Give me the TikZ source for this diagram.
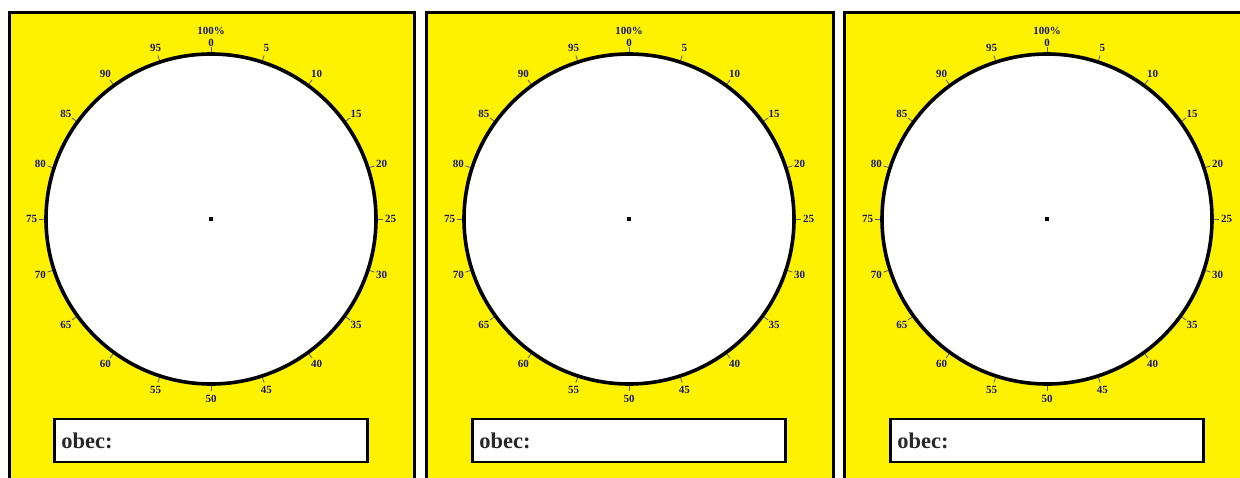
\documentclass[tikz,border=0pt]{standalone}
\usepackage{fontspec}
\setmainfont{Liberation Serif}
\usetikzlibrary{calc}
\definecolor{panelyellow}{RGB}{255,242,0}
\definecolor{labelblue}{RGB}{25,25,100}
\definecolor{tickgray}{RGB}{90,90,120}
\definecolor{obecgray}{RGB}{40,40,40}
\tikzset{
  panel/.style={draw=black, line width=3pt, fill=panelyellow},
  dial/.style={draw=black, line width=3.6pt, fill=white},
  tickmark/.style={draw=tickgray, line width=0.8pt},
  ticklabel/.style={text=labelblue, font=\fontsize{11}{11}\selectfont\bfseries, inner sep=0pt},
  obecbox/.style={draw=black, line width=2.5pt, fill=white},
  obectext/.style={text=obecgray, font=\fontsize{22.5}{22.5}\selectfont\bfseries, inner sep=0pt, anchor=west},
}
\begin{document}
\begin{tikzpicture}[x=1pt,y=-1pt]
\clip (0,0) rectangle (1240,477);
\useasboundingbox (0,0) rectangle (1240,477);
\fill[white] (0,0) rectangle (1240,477);
\foreach \p/\cx/\lx/\rx in {1/211/9/414,2/629/426/833,3/1047/844/1270}{
  \draw[panel] (\lx,12) rectangle (\rx,495);
  \coordinate (c\p) at (\cx,219);
  \draw[dial] (c\p) circle[radius=165];
  \fill[black] ($(c\p)+(-2,-2)$) rectangle ($(c\p)+(2,2)$);
  \foreach \i in {0,...,19}{
    \pgfmathsetmacro{\ang}{\i*18-90}
    \pgfmathtruncatemacro{\val}{\i*5}
    \draw[tickmark] ($(c\p)+(\ang:167)$) -- ($(c\p)+(\ang:172)$);
    \ifnum\i=0
      \node[ticklabel] (l\p-\i) at ($(c\p)+(\ang:176)$) {\val};
    \else
      \node[ticklabel] (l\p-\i) at ($(c\p)+(\ang:179.5)$) {\val};
    \fi
  }
  \node[ticklabel] (pct\p) at ($(c\p)+(0,-188)$) {100\%};
  \node[obecbox, minimum width=313pt, minimum height=43pt, inner sep=0pt] (box\p) at (\cx,440.5) {};
  \node[obectext] (obec\p) at ($(box\p.west)+(8,0)$) {obec:};
}
\end{tikzpicture}
\end{document}
